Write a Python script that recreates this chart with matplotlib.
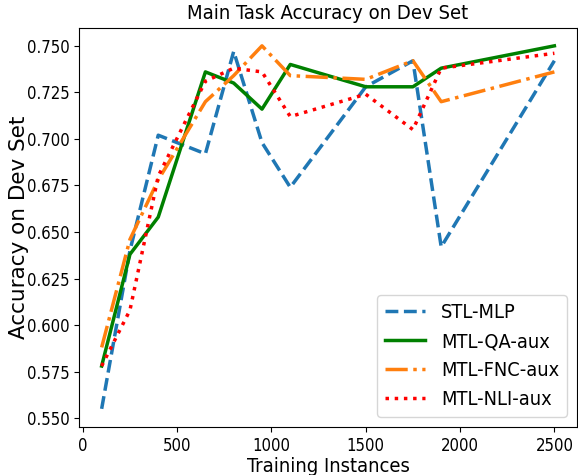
import matplotlib
matplotlib.use('Agg')
import matplotlib.pyplot as plt

plt.rcParams['font.family'] = ['DejaVu Sans']
plt.rcParams['font.stretch'] = 'condensed'

# training set sizes
instances = [100, 250, 400, 650, 800, 950, 1100, 1500, 1750, 1900, 2500]

stl_mlp = [0.555, 0.640, 0.702, 0.692, 0.747, 0.698, 0.674, 0.728, 0.742, 0.642, 0.742]
mtl_qa = [0.578, 0.638, 0.658, 0.736, 0.730, 0.716, 0.740, 0.728, 0.728, 0.738, 0.750]
mtl_fnc = [0.588, 0.646, 0.678, 0.720, 0.734, 0.750, 0.734, 0.732, 0.742, 0.720, 0.736]
mtl_nli = [0.578, 0.608, 0.680, 0.731, 0.738, 0.736, 0.712, 0.724, 0.705, 0.738, 0.746]

fig = plt.figure(figsize=(5.78, 4.75), dpi=100)
ax = fig.add_axes([0.1367, 0.1011, 0.8616, 0.8406])

ax.plot(instances, stl_mlp, color='#1f77b4', linestyle='--', linewidth=2.5, label='STL-MLP')
ax.plot(instances, mtl_qa, color='green', linestyle='-', linewidth=2.5, label='MTL-QA-aux')
ax.plot(instances, mtl_fnc, color='#ff7f0e', linestyle='-.', linewidth=2.5, label='MTL-FNC-aux')
ax.plot(instances, mtl_nli, color='red', linestyle=':', linewidth=2.5, label='MTL-NLI-aux')

ax.set_title('Main Task Accuracy on Dev Set', fontsize=14.5)
ax.set_xlabel('Training Instances', fontsize=14.5, labelpad=2)
ax.set_ylabel('Accuracy on Dev Set', fontsize=15.5, fontstretch='normal')
ax.yaxis.set_label_coords(-0.10, 0.5)
ax.tick_params(labelsize=12)
ax.yaxis.set_major_formatter(matplotlib.ticker.FormatStrFormatter('%.3f'))
ax.legend(loc='lower right', fontsize=14.3)

fig.savefig('out.png', dpi=100)
